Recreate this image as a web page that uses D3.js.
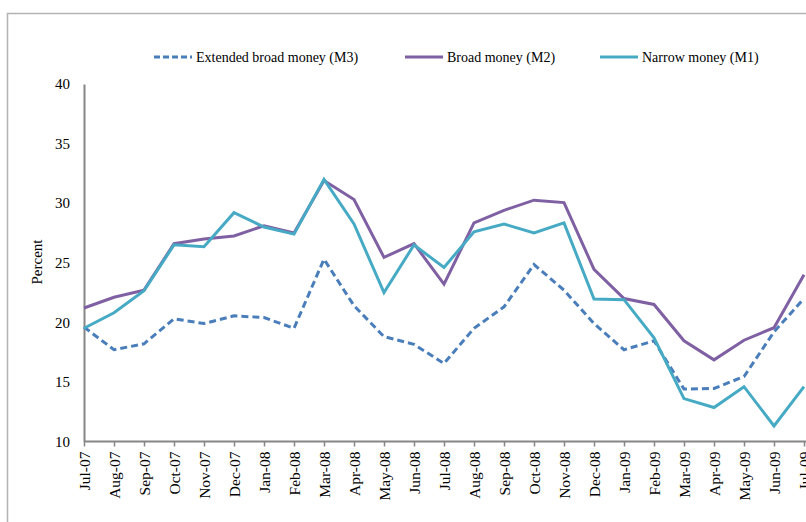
<!DOCTYPE html>
<html><head><meta charset="utf-8">
<script src="https://cdn.jsdelivr.net/npm/d3@7"></script>
<style>body{margin:0;background:#fff}svg{display:block}text{font-family:"Liberation Serif","Times New Roman",serif;fill:#000}</style>
</head><body>
<svg id="c" width="806" height="522"></svg>
<script>
const categories = ["Jul-07","Aug-07","Sep-07","Oct-07","Nov-07","Dec-07","Jan-08","Feb-08","Mar-08","Apr-08","May-08","Jun-08","Jul-08","Aug-08","Sep-08","Oct-08","Nov-08","Dec-08","Jan-09","Feb-09","Mar-09","Apr-09","May-09","Jun-09","Jul-09"];
const m3 = [19.6,17.7,18.2,20.3,19.9,20.55,20.4,19.5,25.3,21.4,18.8,18.15,16.55,19.5,21.3,24.85,22.7,19.9,17.7,18.45,14.4,14.45,15.45,19.2,22.0];
const m2 = [21.2,22.1,22.7,26.6,27.0,27.25,28.1,27.5,31.9,30.3,25.45,26.6,23.2,28.35,29.4,30.25,30.05,24.45,22.0,21.5,18.45,16.85,18.5,19.55,24.0];
const m1 = [19.5,20.8,22.65,26.5,26.35,29.2,28.0,27.4,32.0,28.25,22.5,26.5,24.6,27.6,28.25,27.5,28.35,21.95,21.9,18.7,13.6,12.85,14.6,11.3,14.6];
const yTicks = [10,15,20,25,30,35,40];
const seriesNames = ["Extended broad money (M3)","Broad money (M2)","Narrow money (M1)"];

const series = [
  {name: seriesNames[0], values: m3, color: "#4a7ebb", dash: "7,4"},
  {name: seriesNames[1], values: m2, color: "#7f60a3", dash: null},
  {name: seriesNames[2], values: m1, color: "#46aac4", dash: null}
];

const svg = d3.select("#c");
// outer chart frame
svg.append("rect").attr("x",7.5).attr("y",13.5).attr("width",900).attr("height",600)
  .attr("fill","none").attr("stroke","#b3b3b3").attr("stroke-width",1.5);

const x = d3.scalePoint().domain(categories).range([84, 804]);
const y = d3.scaleLinear().domain([10,40]).range([441.5, 84]);

// y axis
const ya = svg.append("g").attr("transform","translate(84,0)")
  .call(d3.axisLeft(y).tickValues(yTicks).tickSize(0).tickPadding(14));
ya.select(".domain").attr("stroke","#868686").attr("stroke-width",2);
ya.selectAll("text").style("font-size","15px").style("font-family",'"Liberation Serif",serif').attr("fill","#000");

// x axis
const xa = svg.append("g").attr("transform","translate(0,441.5)")
  .call(d3.axisBottom(x).tickSize(5).tickSizeOuter(0));
xa.select(".domain").attr("stroke","#868686").attr("stroke-width",2).attr("d","M84,0H900");
xa.selectAll(".tick line").attr("stroke","#868686").attr("stroke-width",1.5);
xa.selectAll("text").style("font-size","15.5px").style("font-family",'"Liberation Serif",serif').attr("fill","#000")
  .attr("transform","rotate(-90)").attr("text-anchor","end").attr("x",-10).attr("y",0).attr("dy","0.35em");

// y title
svg.append("text").attr("transform","translate(42,262) rotate(-90)").attr("text-anchor","middle")
  .style("font-size","15px").text("Percent");

// lines
const line = d3.line().x((d,i)=>x(categories[i])).y(d=>y(d));
const clip = svg.append("clipPath").attr("id","pc").append("rect").attr("x",0).attr("y",0).attr("width",806).attr("height",522);
series.forEach(s=>{
  svg.append("path").datum(s.values).attr("d",line).attr("fill","none")
    .attr("stroke",s.color).attr("stroke-width",3).attr("stroke-linejoin","miter")
    .attr("stroke-dasharray",s.dash);
});

// legend
const legendX = [154, 405, 600];
series.forEach((s,i)=>{
  const g = svg.append("g").attr("transform",`translate(${legendX[i]},57)`);
  g.append("line").attr("x1",0).attr("x2",38).attr("y1",0).attr("y2",0)
    .attr("stroke",s.color).attr("stroke-width",3).attr("stroke-dasharray",s.dash ? "6,3" : null);
  g.append("text").attr("x",42).attr("y",0).attr("dy","0.35em").style("font-size","14px").text(s.name);
});
</script>
</body></html>
